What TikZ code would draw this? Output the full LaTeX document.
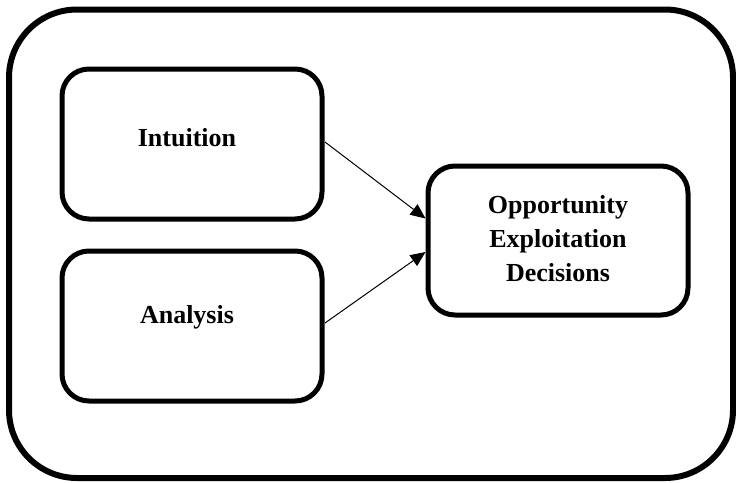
\documentclass[tikz,border=0pt]{standalone}
\usepackage{fontspec}
\setmainfont{Liberation Serif}
\usetikzlibrary{arrows.meta}
\begin{document}
\begin{tikzpicture}[x=1pt,y=-1pt,
  outerbox/.style={draw,line width=6pt,rounded corners=68pt},
  innerbox/.style={draw,line width=5pt,rounded corners=27pt,minimum width=260pt,minimum height=150pt,
    inner sep=0pt,align=center,font=\fontsize{26}{33}\selectfont\bfseries},
  conn/.style={line width=1pt,-{Triangle[length=15pt,width=13pt]}}]
\useasboundingbox (0,0) rectangle (736,482);
\draw[outerbox] (9,9.5) rectangle (733,478);
\node[innerbox] (intu) at (192,144) {\raisebox{14pt}{Intuition}\hspace*{10pt}};
\node[innerbox] (anal) at (192,326) {\raisebox{24pt}{Analysis}\hspace*{10pt}};
\node[innerbox,minimum height=149pt] (opp) at (558,240.5) {\raisebox{12pt}{\begin{tabular}{@{}c@{}}Opportunity\\[1pt]Exploitation\\[1pt]Decisions\end{tabular}}};
\coordinate (a1) at (325,142);
\coordinate (a2) at (325,323);
\draw[conn] (a1) -- (opp.west |- 0,218.5) ;
\draw[conn] (a2) -- (opp.west |- 0,252) ;
\end{tikzpicture}
\end{document}
